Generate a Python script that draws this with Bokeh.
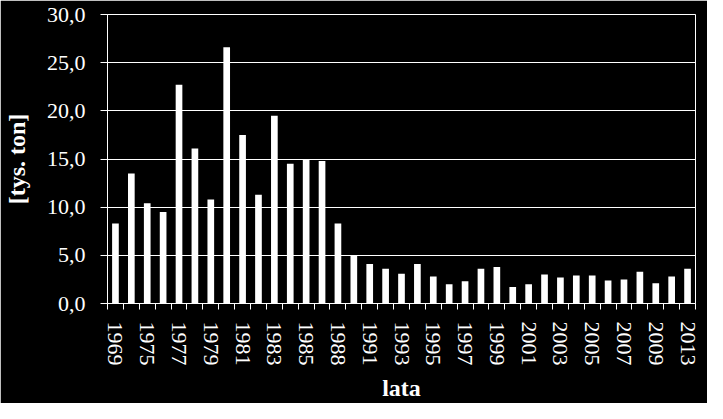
from bokeh.plotting import figure
from bokeh.models import ColumnDataSource, FixedTicker, CustomJSTickFormatter, Range1d
from bokeh.embed import file_html
from bokeh.resources import INLINE

# Data
years = ["1969", "1970", "1975", "1976", "1977", "1978", "1979", "1980", "1981", "1982",
         "1983", "1984", "1985", "1986", "1988", "1990", "1991", "1992", "1993", "1994",
         "1995", "1996", "1997", "1998", "1999", "2000", "2001", "2002", "2003", "2004",
         "2005", "2006", "2007", "2008", "2009", "2011", "2013"]
values = [8.3, 13.5, 10.4, 9.5, 22.7, 16.1, 10.8, 26.6, 17.5, 11.3,
          19.5, 14.5, 15.0, 14.8, 8.3, 5.0, 4.1, 3.6, 3.1, 4.1,
          2.8, 2.0, 2.3, 3.6, 3.8, 1.7, 2.0, 3.0, 2.7, 2.9,
          2.9, 2.4, 2.5, 3.3, 2.1, 2.8, 3.6]
y_ticks = [0, 5, 10, 15, 20, 25, 30]
y_title = "[tys. ton]"
x_title = "lata"

pos = list(range(1, len(years) + 1))
src = ColumnDataSource(dict(x=pos, top=values, year=years))

FONT = "Liberation Serif"

p = figure(width=707, height=403, output_backend="svg", toolbar_location=None,
           x_range=Range1d(0.5, len(years) + 0.5), y_range=Range1d(0, 30),
           min_border_left=101, min_border_right=12, min_border_top=14, min_border_bottom=98)

p.background_fill_color = "black"
p.border_fill_color = "black"
p.outline_line_color = "white"
p.outline_line_width = 1

p.vbar(x="x", top="top", width=0.42, source=src, fill_color="white", line_color="white", line_width=0)

# x axis
p.xaxis.ticker = FixedTicker(ticks=pos[::2], minor_ticks=[i + 0.5 for i in range(0, len(years) + 1)])
p.xaxis.formatter = CustomJSTickFormatter(args=dict(labels=years),
                                          code="const i = Math.round(tick) - 1; return labels[i] || '';")
p.xaxis.major_label_orientation = "vertical"
p.xaxis.major_tick_out = 0
p.xaxis.major_tick_in = 0
p.xaxis.minor_tick_out = 6
p.xaxis.minor_tick_in = 0
p.xaxis.minor_tick_line_color = "white"
p.xaxis.major_label_standoff = 12
p.xaxis.axis_label = x_title
p.xaxis.axis_label_standoff = 6

# y axis
p.yaxis.ticker = FixedTicker(ticks=y_ticks, minor_ticks=[])
p.yaxis.formatter = CustomJSTickFormatter(code="return tick.toFixed(1).replace('.', ',');")
p.yaxis.major_tick_out = 7
p.yaxis.major_tick_in = 0
p.yaxis.minor_tick_out = 0
p.yaxis.minor_tick_in = 0
p.yaxis.major_label_standoff = 15
p.yaxis.axis_label = y_title
p.yaxis.axis_label_standoff = 14

for ax in (p.xaxis, p.yaxis):
    ax.axis_line_color = "white"
    ax.major_tick_line_color = "white"
    ax.major_label_text_color = "white"
    ax.major_label_text_font = FONT
    ax.major_label_text_font_size = "22px"
    ax.axis_label_text_color = "white"
    ax.axis_label_text_font = FONT
    ax.axis_label_text_font_size = "24px"
    ax.axis_label_text_font_style = "bold"

p.xgrid.grid_line_color = None
p.ygrid.ticker = FixedTicker(ticks=y_ticks)
p.ygrid.grid_line_color = "white"
p.ygrid.grid_line_width = 1

open("out.html", "w").write(file_html(p, INLINE))
